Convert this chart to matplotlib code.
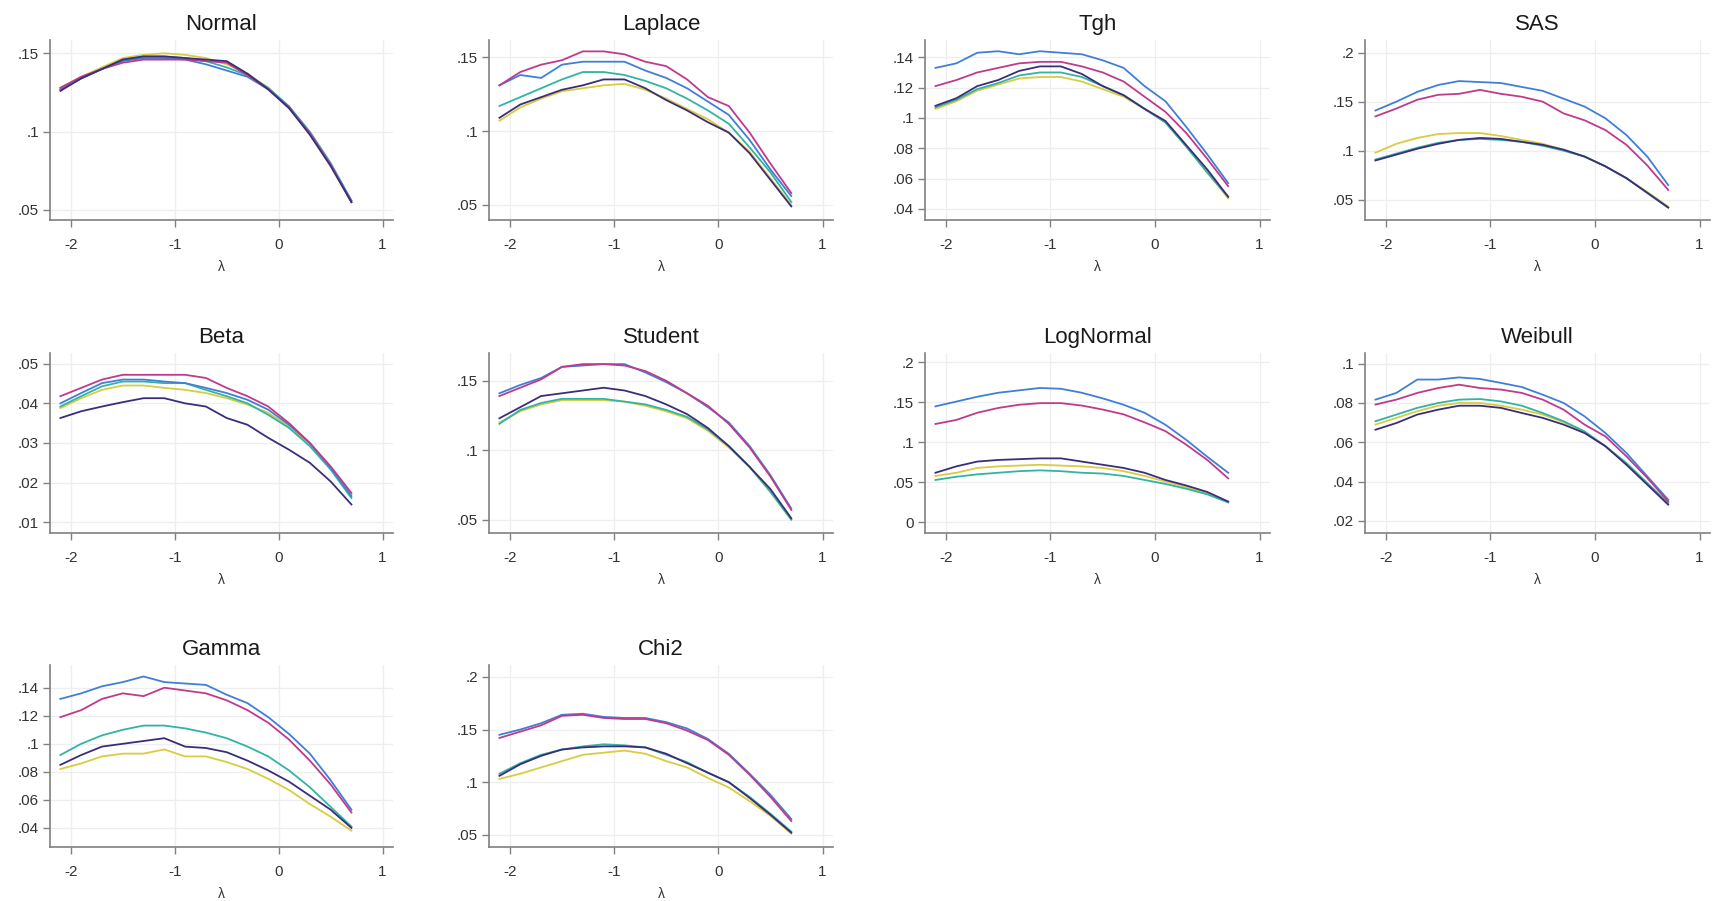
import matplotlib
matplotlib.use("Agg")
import matplotlib.pyplot as plt
from matplotlib.ticker import FixedLocator, FixedFormatter

plt.rcParams['font.family'] = ['Liberation Sans', 'DejaVu Sans']

LAMBDA = [-2.1, -1.9, -1.7, -1.5, -1.3, -1.1, -0.9, -0.7, -0.5, -0.3, -0.1, 0.1, 0.3, 0.5, 0.7]

SERIES_COLORS = ['#3f80d6', '#c03a8c', '#33b3a6', '#3b2d7a', '#d9cc3f']  # blue, magenta, teal, navy, yellow

PANEL_TITLES = ['Normal', 'Laplace', 'Tgh', 'SAS', 'Beta', 'Student', 'LogNormal', 'Weibull', 'Gamma', 'Chi2']

# each panel: [blue, magenta, teal, navy, yellow]
NORMAL = [
    [0.127, 0.134, 0.140, 0.145, 0.147, 0.147, 0.146, 0.143, 0.139, 0.135, 0.127, 0.116, 0.099, 0.079, 0.056],
    [0.128, 0.135, 0.140, 0.144, 0.146, 0.146, 0.146, 0.145, 0.144, 0.136, 0.127, 0.115, 0.099, 0.079, 0.055],
    [0.127, 0.134, 0.140, 0.146, 0.148, 0.148, 0.147, 0.145, 0.141, 0.136, 0.128, 0.116, 0.100, 0.080, 0.056],
    [0.126, 0.134, 0.140, 0.146, 0.148, 0.148, 0.147, 0.146, 0.145, 0.137, 0.127, 0.115, 0.098, 0.078, 0.055],
    [0.128, 0.135, 0.141, 0.147, 0.149, 0.150, 0.149, 0.147, 0.143, 0.137, 0.128, 0.116, 0.099, 0.079, 0.055],
]
LAPLACE = [
    [0.131, 0.138, 0.136, 0.145, 0.147, 0.147, 0.147, 0.141, 0.136, 0.129, 0.120, 0.111, 0.094, 0.074, 0.056],
    [0.131, 0.140, 0.145, 0.148, 0.154, 0.154, 0.152, 0.147, 0.144, 0.135, 0.123, 0.117, 0.099, 0.078, 0.058],
    [0.117, 0.123, 0.129, 0.135, 0.140, 0.140, 0.138, 0.134, 0.129, 0.122, 0.114, 0.105, 0.089, 0.072, 0.052],
    [0.109, 0.118, 0.123, 0.128, 0.131, 0.135, 0.135, 0.129, 0.121, 0.114, 0.106, 0.099, 0.085, 0.067, 0.049],
    [0.107, 0.116, 0.122, 0.127, 0.129, 0.131, 0.132, 0.128, 0.122, 0.115, 0.108, 0.099, 0.086, 0.068, 0.050],
]
TGH = [
    [0.133, 0.136, 0.143, 0.144, 0.142, 0.144, 0.143, 0.142, 0.138, 0.133, 0.121, 0.111, 0.094, 0.076, 0.057],
    [0.121, 0.125, 0.130, 0.133, 0.136, 0.137, 0.137, 0.134, 0.130, 0.124, 0.114, 0.104, 0.090, 0.073, 0.055],
    [0.107, 0.112, 0.119, 0.123, 0.128, 0.130, 0.130, 0.127, 0.121, 0.115, 0.106, 0.097, 0.081, 0.064, 0.048],
    [0.108, 0.113, 0.121, 0.125, 0.131, 0.134, 0.134, 0.129, 0.121, 0.115, 0.106, 0.098, 0.082, 0.066, 0.048],
    [0.106, 0.111, 0.118, 0.122, 0.126, 0.127, 0.127, 0.124, 0.119, 0.114, 0.106, 0.097, 0.081, 0.064, 0.047],
]
SAS = [
    [0.141, 0.150, 0.160, 0.167, 0.171, 0.170, 0.169, 0.165, 0.161, 0.153, 0.145, 0.133, 0.116, 0.094, 0.065],
    [0.135, 0.143, 0.152, 0.157, 0.158, 0.162, 0.158, 0.155, 0.150, 0.138, 0.131, 0.121, 0.106, 0.085, 0.060],
    [0.091, 0.097, 0.103, 0.108, 0.111, 0.112, 0.111, 0.109, 0.105, 0.100, 0.094, 0.084, 0.072, 0.057, 0.042],
    [0.090, 0.096, 0.102, 0.107, 0.111, 0.113, 0.112, 0.109, 0.106, 0.101, 0.094, 0.084, 0.072, 0.057, 0.042],
    [0.098, 0.107, 0.113, 0.117, 0.118, 0.118, 0.115, 0.111, 0.107, 0.101, 0.094, 0.084, 0.072, 0.058, 0.043],
]
BETA = [
    [0.0400, 0.0426, 0.0451, 0.0460, 0.0460, 0.0455, 0.0451, 0.0439, 0.0426, 0.0409, 0.0384, 0.0346, 0.0300, 0.0237, 0.0166],
    [0.0418, 0.0439, 0.0460, 0.0472, 0.0472, 0.0472, 0.0472, 0.0464, 0.0439, 0.0418, 0.0392, 0.0350, 0.0300, 0.0241, 0.0174],
    [0.0392, 0.0418, 0.0443, 0.0455, 0.0455, 0.0451, 0.0451, 0.0434, 0.0418, 0.0400, 0.0371, 0.0338, 0.0292, 0.0233, 0.0161],
    [0.0363, 0.0380, 0.0392, 0.0403, 0.0413, 0.0413, 0.0400, 0.0392, 0.0363, 0.0346, 0.0313, 0.0283, 0.0250, 0.0203, 0.0145],
    [0.0388, 0.0413, 0.0434, 0.0445, 0.0445, 0.0439, 0.0434, 0.0426, 0.0413, 0.0397, 0.0376, 0.0342, 0.0296, 0.0237, 0.0170],
]
STUDENT = [
    [0.141, 0.147, 0.152, 0.160, 0.161, 0.162, 0.162, 0.156, 0.149, 0.141, 0.131, 0.120, 0.103, 0.082, 0.058],
    [0.139, 0.145, 0.151, 0.160, 0.162, 0.162, 0.161, 0.157, 0.150, 0.141, 0.132, 0.119, 0.102, 0.081, 0.057],
    [0.119, 0.129, 0.134, 0.137, 0.137, 0.137, 0.135, 0.133, 0.129, 0.124, 0.115, 0.103, 0.088, 0.070, 0.050],
    [0.123, 0.131, 0.139, 0.141, 0.143, 0.145, 0.143, 0.139, 0.133, 0.126, 0.116, 0.103, 0.088, 0.072, 0.051],
    [0.120, 0.128, 0.133, 0.136, 0.136, 0.136, 0.135, 0.132, 0.128, 0.123, 0.114, 0.102, 0.088, 0.070, 0.050],
]
LOGNORMAL = [
    [0.145, 0.151, 0.157, 0.162, 0.165, 0.168, 0.167, 0.162, 0.155, 0.147, 0.137, 0.122, 0.103, 0.082, 0.062],
    [0.123, 0.128, 0.137, 0.143, 0.147, 0.149, 0.149, 0.146, 0.141, 0.135, 0.125, 0.114, 0.097, 0.078, 0.055],
    [0.053, 0.057, 0.060, 0.062, 0.064, 0.065, 0.064, 0.062, 0.061, 0.058, 0.053, 0.048, 0.042, 0.035, 0.025],
    [0.062, 0.070, 0.076, 0.078, 0.079, 0.080, 0.080, 0.076, 0.072, 0.068, 0.062, 0.053, 0.046, 0.038, 0.026],
    [0.058, 0.062, 0.068, 0.070, 0.071, 0.072, 0.071, 0.070, 0.068, 0.064, 0.058, 0.051, 0.044, 0.036, 0.025],
]
WEIBULL = [
    [0.0817, 0.0851, 0.0919, 0.0919, 0.0930, 0.0922, 0.0902, 0.0881, 0.0842, 0.0800, 0.0732, 0.0647, 0.0546, 0.0427, 0.0308],
    [0.0792, 0.0817, 0.0851, 0.0876, 0.0893, 0.0876, 0.0868, 0.0851, 0.0817, 0.0766, 0.0690, 0.0630, 0.0529, 0.0419, 0.0300],
    [0.0707, 0.0741, 0.0775, 0.0800, 0.0817, 0.0820, 0.0808, 0.0786, 0.0749, 0.0707, 0.0656, 0.0580, 0.0495, 0.0393, 0.0292],
    [0.0664, 0.0698, 0.0741, 0.0766, 0.0786, 0.0786, 0.0775, 0.0749, 0.0724, 0.0690, 0.0647, 0.0580, 0.0486, 0.0385, 0.0283],
    [0.0690, 0.0724, 0.0758, 0.0786, 0.0800, 0.0800, 0.0786, 0.0766, 0.0741, 0.0702, 0.0651, 0.0580, 0.0492, 0.0390, 0.0288],
]
GAMMA = [
    [0.132, 0.136, 0.141, 0.144, 0.148, 0.144, 0.143, 0.142, 0.135, 0.129, 0.119, 0.107, 0.093, 0.074, 0.053],
    [0.119, 0.124, 0.132, 0.136, 0.134, 0.140, 0.138, 0.136, 0.131, 0.124, 0.115, 0.103, 0.088, 0.071, 0.051],
    [0.092, 0.100, 0.106, 0.110, 0.113, 0.113, 0.111, 0.108, 0.104, 0.098, 0.091, 0.081, 0.069, 0.055, 0.041],
    [0.085, 0.092, 0.098, 0.100, 0.102, 0.104, 0.098, 0.097, 0.094, 0.088, 0.081, 0.073, 0.063, 0.053, 0.040],
    [0.082, 0.086, 0.091, 0.093, 0.093, 0.096, 0.091, 0.091, 0.087, 0.082, 0.075, 0.067, 0.057, 0.048, 0.038],
]
CHI2 = [
    [0.145, 0.150, 0.156, 0.164, 0.165, 0.162, 0.161, 0.161, 0.157, 0.151, 0.141, 0.127, 0.108, 0.088, 0.065],
    [0.142, 0.148, 0.154, 0.163, 0.164, 0.161, 0.160, 0.160, 0.156, 0.149, 0.140, 0.126, 0.107, 0.086, 0.063],
    [0.108, 0.118, 0.126, 0.131, 0.134, 0.136, 0.135, 0.133, 0.126, 0.119, 0.109, 0.100, 0.086, 0.070, 0.053],
    [0.106, 0.117, 0.125, 0.131, 0.133, 0.134, 0.134, 0.133, 0.127, 0.118, 0.109, 0.100, 0.085, 0.069, 0.052],
    [0.103, 0.108, 0.114, 0.120, 0.126, 0.128, 0.130, 0.127, 0.120, 0.114, 0.104, 0.095, 0.082, 0.068, 0.051],
]
PANEL_DATA = [NORMAL, LAPLACE, TGH, SAS, BETA, STUDENT, LOGNORMAL, WEIBULL, GAMMA, CHI2]

Y_TICKS = [
    [0.05, 0.10, 0.15],
    [0.05, 0.10, 0.15],
    [0.04, 0.06, 0.08, 0.10, 0.12, 0.14],
    [0.05, 0.10, 0.15, 0.20],
    [0.01, 0.02, 0.03, 0.04, 0.05],
    [0.05, 0.10, 0.15],
    [0.0, 0.05, 0.10, 0.15, 0.20],
    [0.02, 0.04, 0.06, 0.08, 0.10],
    [0.04, 0.06, 0.08, 0.10, 0.12, 0.14],
    [0.05, 0.10, 0.15, 0.20],
]
Y_LIMITS = [
    (0.0436, 0.1585), (0.0398, 0.1617), (0.0327, 0.1514), (0.0293, 0.2129),
    (0.0073, 0.0527), (0.0404, 0.1700), (-0.0133, 0.2117), (0.0139, 0.1054),
    (0.0264, 0.1562), (0.0384, 0.2113),
]
X_TICKS = [-2, -1, 0, 1]
X_LIMITS = (-2.2, 1.1)

W, H = 1715, 901
COL_LEFT = [50, 489, 925, 1365]
COL_RIGHT = [393, 833, 1270, 1710]
ROW_TOP = [40, 353, 665]
ROW_BOTTOM = [220, 533, 847]


def fmt(v):
    if abs(v) < 1e-12:
        return '0'
    s = ('%g' % v)
    if s.startswith('0.'):
        s = s[1:]
    elif s.startswith('-0.'):
        s = '-' + s[2:]
    return s


fig = plt.figure(figsize=(W / 100, H / 100), dpi=100)
fig.patch.set_facecolor('white')

for i, title in enumerate(PANEL_TITLES):
    r, c = divmod(i, 4)
    left = COL_LEFT[c] / W
    width = (COL_RIGHT[c] - COL_LEFT[c]) / W
    bottom = 1 - ROW_BOTTOM[r] / H
    height = (ROW_BOTTOM[r] - ROW_TOP[r]) / H
    ax = fig.add_axes([left, bottom, width, height])
    ax.set_facecolor('white')
    for k in (4, 2, 0, 1, 3):
        ax.plot(LAMBDA, PANEL_DATA[i][k], color=SERIES_COLORS[k], lw=1.3, solid_joinstyle='round')
    ax.set_xlim(*X_LIMITS)
    ax.set_ylim(*Y_LIMITS[i])
    ax.xaxis.set_major_locator(FixedLocator(X_TICKS))
    ax.xaxis.set_major_formatter(FixedFormatter([str(t) for t in X_TICKS]))
    ax.yaxis.set_major_locator(FixedLocator(Y_TICKS[i]))
    ax.yaxis.set_major_formatter(FixedFormatter([fmt(t) for t in Y_TICKS[i]]))
    ax.grid(True, color='#eeeeee', lw=0.9)
    ax.set_axisbelow(True)
    for s in ('top', 'right'):
        ax.spines[s].set_visible(False)
    for s in ('left', 'bottom'):
        ax.spines[s].set_color('#808080')
        ax.spines[s].set_linewidth(1.2)
    ax.tick_params(axis='both', direction='out', length=5, width=1.0, color='#808080',
                   labelsize=11, labelcolor='#333333', pad=3)
    ax.tick_params(axis='x', pad=8)
    ax.set_title(title, fontsize=16, color='#1a1a1a', pad=7)
    ax.set_xlabel('λ', fontsize=10, color='#333333', labelpad=6)

fig.savefig('out.png', dpi=100, facecolor='white')
